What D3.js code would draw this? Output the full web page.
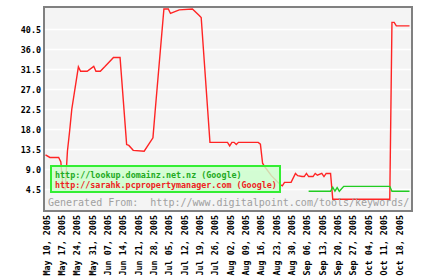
<!DOCTYPE html>
<html>
<head>
<meta charset="utf-8">
<script src="https://cdn.jsdelivr.net/npm/d3@7"></script>
<style>
  body { margin: 0; background: #fff; }
  svg { display: block; }
</style>
</head>
<body>
<svg id="chart" width="425" height="280"></svg>
<script>
// red series: http://sarahk.pcpropertymanager.com (Google)
var redDates = ["2005-05-10","2005-05-12","2005-05-16","2005-05-17","2005-05-18","2005-05-19","2005-05-20",
  "2005-05-21","2005-05-22","2005-05-25","2005-05-26","2005-05-29","2005-06-01","2005-06-02","2005-06-04",
  "2005-06-06","2005-06-10","2005-06-13","2005-06-16","2005-06-17","2005-06-19","2005-06-24","2005-06-28",
  "2005-06-29","2005-07-03","2005-07-05","2005-07-06","2005-07-10","2005-07-16","2005-07-19","2005-07-20",
  "2005-07-24","2005-08-01","2005-08-02","2005-08-03","2005-08-04","2005-08-05","2005-08-06","2005-08-15",
  "2005-08-16","2005-08-17","2005-08-18","2005-08-21","2005-08-25","2005-08-26","2005-08-27","2005-08-30",
  "2005-09-01","2005-09-02","2005-09-04","2005-09-05","2005-09-06","2005-09-07","2005-09-09","2005-09-10",
  "2005-09-11","2005-09-13","2005-09-14","2005-09-15","2005-09-17","2005-09-18","2005-10-14","2005-10-15",
  "2005-10-16","2005-10-17","2005-10-23"];
var redValues = [12.2,11.6,11.6,10.6,4.7,4.5,13,
  17.5,22.5,32,31,31,32.1,31,31,
  32,34.1,34.1,14.5,14.3,13.2,13,16,
  22,45,45,44,44.8,45,43.6,43.1,
  15,15,14.2,15,15,14.5,15,15,
  14.6,10.3,9.5,7.5,5.5,5.2,6,6,
  8,7.5,7.3,7.3,8,7.3,7.3,8,
  7.6,8,7.3,8,8,2.2,2.2,42,
  42,41.2,41.2];

// green series: http://lookup.domainz.net.nz (Google)
var greenDates = ["2005-09-07","2005-09-17","2005-09-18","2005-09-19","2005-09-20","2005-09-21",
  "2005-09-23","2005-10-14","2005-10-15","2005-10-23"];
var greenValues = [4,4,4.9,4,4.8,4,5.1,5.1,4,4];

var xTickDates = ["2005-05-10","2005-05-17","2005-05-24","2005-05-31","2005-06-07","2005-06-14",
  "2005-06-21","2005-06-28","2005-07-05","2005-07-12","2005-07-19","2005-07-26","2005-08-02",
  "2005-08-09","2005-08-16","2005-08-23","2005-08-30","2005-09-06","2005-09-13","2005-09-20",
  "2005-09-27","2005-10-04","2005-10-11","2005-10-18"];
var yTicks = [4.5, 9.0, 13.5, 18.0, 22.5, 27.0, 31.5, 36.0, 40.5];

var legendLabels = ["http://lookup.domainz.net.nz (Google)", "http://sarahk.pcpropertymanager.com (Google)"];
var legendColors = ["#22aa22", "#ee2222"];

var parse = d3.utcParse("%Y-%m-%d");
var mono = "'DejaVu Sans Mono', monospace";

var svg = d3.select("#chart");

var xScale = d3.scaleUtc()
  .domain([parse("2005-05-10"), parse("2005-10-23")])
  .range([45.5, 409.5]);
var yScale = d3.scaleLinear()
  .domain([0, 45.225])
  .range([209, 8]);

// plot area + frame
svg.append("rect")
  .attr("x", 44).attr("y", 7)
  .attr("width", 368).attr("height", 204)
  .attr("fill", "#f4f4f4")
  .attr("stroke", "#808080")
  .attr("stroke-width", 2)
  .attr("shape-rendering", "crispEdges");

// grid
svg.append("g")
  .selectAll("line")
  .data(yTicks)
  .enter()
  .append("line")
  .attr("x1", 45).attr("x2", 411)
  .attr("y1", function(d) { return Math.round(yScale(d)) + 0.5; })
  .attr("y2", function(d) { return Math.round(yScale(d)) + 0.5; })
  .attr("stroke", "#ffffff")
  .attr("stroke-width", 1.5);

// y axis
var yAxis = d3.axisLeft(yScale)
  .tickValues(yTicks)
  .tickFormat(d3.format(".1f"))
  .tickSize(0)
  .tickPadding(0);
var gy = svg.append("g")
  .attr("transform", "translate(41,0)")
  .call(yAxis);
gy.select(".domain").remove();
gy.selectAll("text")
  .attr("dy", 3)
  .attr("font-family", mono)
  .attr("font-size", "8.4px")
  .attr("font-weight", "bold")
  .attr("fill", "#000");

// x axis (rotated labels)
var xAxis = d3.axisBottom(xScale)
  .tickValues(xTickDates.map(parse))
  .tickFormat(d3.utcFormat("%b %d, %Y"))
  .tickSize(0);
var gx = svg.append("g")
  .attr("transform", "translate(0,215)")
  .call(xAxis);
gx.select(".domain").remove();
gx.selectAll("text")
  .attr("transform", "rotate(-90)")
  .attr("x", 0)
  .attr("y", 3.5)
  .attr("dy", 0)
  .attr("text-anchor", "end")
  .attr("font-family", mono)
  .attr("font-size", "8.4px")
  .attr("font-weight", "bold")
  .attr("fill", "#000");

var line = d3.line()
  .x(function(d) { return xScale(d[0]); })
  .y(function(d) { return yScale(d[1]); });

var redData = redDates.map(function(d, i) { return [parse(d), redValues[i]]; });
var greenData = greenDates.map(function(d, i) { return [parse(d), greenValues[i]]; });

svg.append("path")
  .attr("d", line(redData))
  .attr("fill", "none")
  .attr("stroke", "#ff2424")
  .attr("stroke-width", 1.4);

svg.append("path")
  .attr("d", line(greenData))
  .attr("fill", "none")
  .attr("stroke", "#22cc22")
  .attr("stroke-width", 1.4);

// legend
var legend = svg.append("g");
legend.append("rect")
  .attr("x", 51).attr("y", 166)
  .attr("width", 229).attr("height", 26)
  .attr("fill", "#ccffcc")
  .attr("fill-opacity", 0.82)
  .attr("stroke", "#33ee33")
  .attr("stroke-width", 2)
  .attr("shape-rendering", "crispEdges");
legend.selectAll("text")
  .data(legendLabels)
  .enter()
  .append("text")
  .attr("x", 55)
  .attr("y", function(d, i) { return 177.5 + i * 10; })
  .attr("font-family", mono)
  .attr("font-size", "8.4px")
  .attr("font-weight", "bold")
  .attr("fill", function(d, i) { return legendColors[i]; })
  .text(function(d) { return d; });

svg.append("text")
  .attr("x", 48)
  .attr("y", 206)
  .attr("font-family", mono)
  .attr("font-size", "10px")
  .attr("fill", "#a0a0a0")
  .attr("xml:space", "preserve")
  .style("white-space", "pre")
  .text("Generated From:  http://www.digitalpoint.com/tools/keywords/");
</script>
</body>
</html>
